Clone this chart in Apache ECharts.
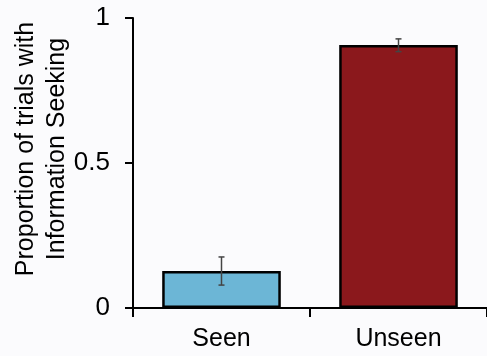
<!DOCTYPE html>
<html>
<head>
<meta charset="utf-8">
<script src="https://cdn.jsdelivr.net/npm/echarts@6/dist/echarts.min.js"></script>
<style>html,body{margin:0;padding:0;background:#fbfbfd;}#c{width:487px;height:356px;}</style>
</head>
<body>
<div id="c"></div>
<script>
const categories = ['Seen', 'Unseen'];
const means = [0.128, 0.907];
const errLow = [0.079, 0.884];
const errHigh = [0.176, 0.928];
const barColors = ['#6cb6d6', '#8b181c'];
const yTicks = [0, 0.5, 1];

const chart = echarts.init(document.getElementById('c'));
chart.setOption({
  backgroundColor: '#fbfbfd',
  animation: false,
  grid: { left: 133, top: 18, bottom: 48, right: -6, containLabel: false },
  xAxis: {
    type: 'category',
    data: categories,
    axisLine: { lineStyle: { color: '#000', width: 2 } },
    axisTick: { show: true, length: 9, lineStyle: { color: '#000', width: 2 } },
    axisLabel: { color: '#000', fontSize: 25, fontFamily: 'Liberation Sans, Arial, sans-serif', margin: 19 }
  },
  yAxis: {
    type: 'value', min: 0, max: 1, interval: 0.5,
    axisLine: { show: true, lineStyle: { color: '#000', width: 2 } },
    axisTick: { show: true, length: 8, lineStyle: { color: '#000', width: 2 } },
    splitLine: { show: false },
    axisLabel: {
      color: '#000', fontSize: 26, fontFamily: 'Liberation Sans, Arial, sans-serif', margin: 23,
      formatter: v => (yTicks.indexOf(v) >= 0 ? String(v) : '')
    }
  },
  graphic: [{
    type: 'text',
    x: 42, y: 149,
    rotation: Math.PI / 2,
    style: {
      text: 'Proportion of trials with\nInformation Seeking',
      font: '25px "Liberation Sans", Arial, sans-serif',
      fill: '#000', align: 'center', verticalAlign: 'middle', lineHeight: 31
    }
  }],
  series: [{
    type: 'bar',
    barWidth: '67%',
    data: means.map((v, i) => ({ value: v, itemStyle: { color: barColors[i] } })),
    itemStyle: { borderColor: '#000', borderWidth: 2.5 }
  }, {
    type: 'custom',
    data: categories.map((c, i) => [i, errLow[i], errHigh[i]]),
    renderItem: function (params, api) {
      const lo = api.coord([api.value(0), api.value(1)]);
      const hi = api.coord([api.value(0), api.value(2)]);
      const w = 3;
      const st = { stroke: '#444', lineWidth: 1.5 };
      return {
        type: 'group',
        children: [
          { type: 'line', shape: { x1: lo[0], y1: lo[1], x2: hi[0], y2: hi[1] }, style: st },
          { type: 'line', shape: { x1: lo[0] - w, y1: lo[1], x2: lo[0] + w, y2: lo[1] }, style: st },
          { type: 'line', shape: { x1: hi[0] - w, y1: hi[1], x2: hi[0] + w, y2: hi[1] }, style: st }
        ]
      };
    },
    z: 5
  }]
});
</script>
</body>
</html>
